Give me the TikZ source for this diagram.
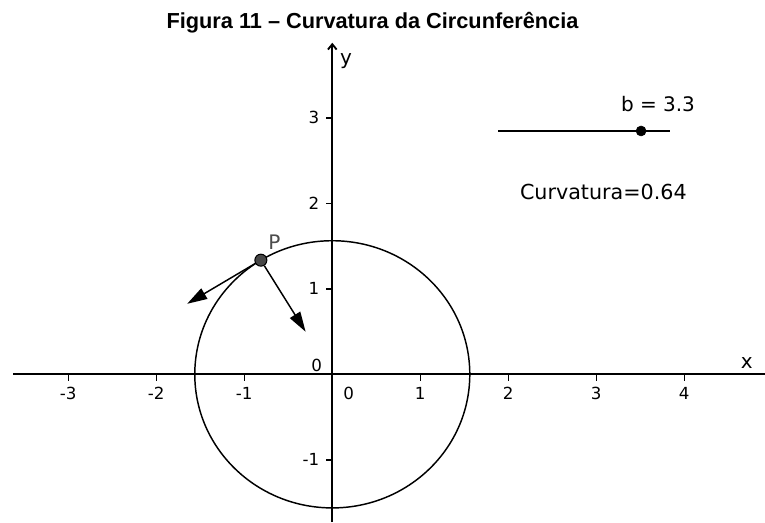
\documentclass[tikz,border=0pt]{standalone}
\usepackage{fontspec}
\setmainfont{DejaVu Sans}
\newfontfamily\titlefont{Liberation Sans}
\usetikzlibrary{arrows.meta,calc}

\begin{document}
\begin{tikzpicture}[
x=66pt, y=64.125pt,
axisline/.style={line width=1.4pt},
tick/.style={line width=1.1pt},
ticklbl/.style={font=\fontsize{12.5}{15}\selectfont, inner sep=0pt},
txt/.style={font=\fontsize{15}{18}\selectfont, inner sep=0pt},
vec/.style={line width=1.1pt, -{Triangle[length=15pt,width=9pt]}},
dot/.style={circle, draw, fill=black, inner sep=0pt, minimum size=7.5pt},
]
\useasboundingbox (-3.776,-1.7275) rectangle (4.917,4.378);
% title
\node[font=\titlefont\bfseries\fontsize{16.3}{19}\selectfont, anchor=base, inner sep=0pt] (title) at (0.457,4.050) {Figura 11 – Curvatura da Circunferência};
% axes
\draw[axisline] (-3.625,0) -- (4.917,0);
\draw[axisline, -{Straight Barb[length=4pt,width=6.5pt]}] (0,-1.7275) -- (0,3.878);
\node[txt] (xlbl) at (4.709,0.132) {x};
\node[txt] (ylbl) at (0.156,3.66) {y};
\foreach \i in {-3,-2,-1,1,2,3,4}
  \draw[tick] (\i,0) -- (\i,-0.08) node[ticklbl] at (\i,-0.219) {\i};
\foreach \j in {-1,1,2,3}
  \draw[tick] (0,\j) -- (-0.07,\j) node[ticklbl, anchor=east] at (-0.14,\j) {\j};
\node[ticklbl] (zy) at (-0.178,0.105) {0};
\node[ticklbl] (zx) at (0.186,-0.219) {0};
% circle
\draw[line width=1.1pt] (0,0) ellipse [x radius=103.125pt, y radius=100.195pt];
% point and vectors
\node[dot, fill=black!72, minimum size=9pt, line width=0.8pt] (P) at (121.3:1.5625) {};
\coordinate (T) at (-1.649,0.825);
\coordinate (N) at (-0.303,0.498);
\draw[vec] (P) -- (T);
\draw[vec] (P) -- (N);
\node[txt, text=black!70] (Plbl) at (-0.657,1.541) {P};
% slider
\coordinate (s1) at (1.888,2.846);
\coordinate (s2) at (3.835,2.846);
\draw[line width=1.1pt] (s1) -- (s2);
\node[dot] (b) at (3.509,2.846) {};
\node[txt, anchor=base] (blbl) at (3.701,3.071) {b = 3.3};
\node[txt, anchor=base, font=\fontsize{15.5}{18}\selectfont] (curv) at (3.080,2.039) {Curvatura=0.64};
\end{tikzpicture}
\end{document}
